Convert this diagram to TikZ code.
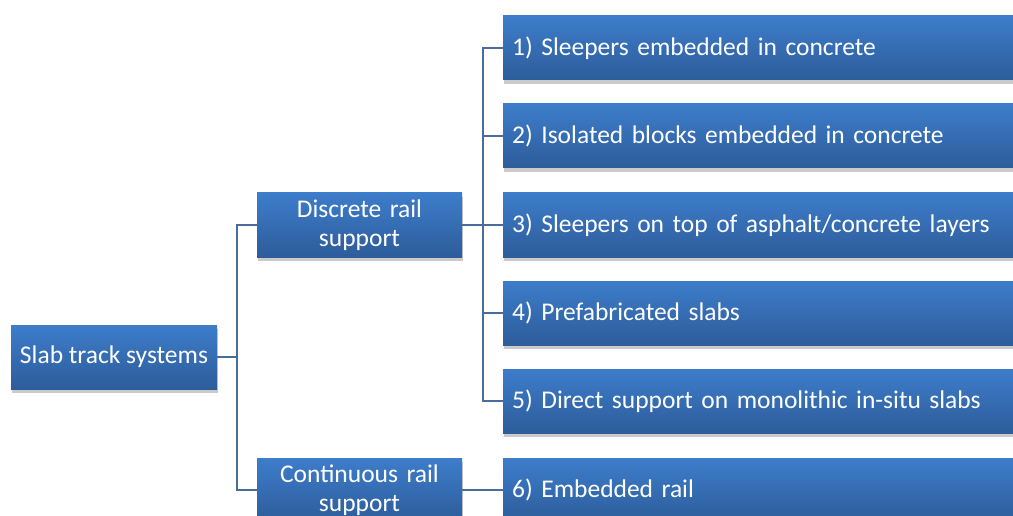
\documentclass[tikz,border=0pt]{standalone}
\usepackage{fontspec}
\setmainfont{Carlito}
\usetikzlibrary{shadows}
\definecolor{boxtop}{HTML}{3D7DCB}
\definecolor{boxbot}{HTML}{2D5C9A}
\definecolor{linec}{HTML}{4A6C9C}
\tikzset{
  box/.style={top color=boxtop, bottom color=boxbot, draw=none, text=white,
    font=\fontsize{25.5}{29}\selectfont, minimum height=64pt,
    drop shadow={shadow xshift=1pt, shadow yshift=-4pt, opacity=0.35, fill=black!60}},
  midbox/.style={box, minimum width=205pt, text width=200pt, align=center, inner sep=0pt},
  leafbox/.style={box, anchor=west, text width=512pt, inner xsep=9pt, inner ysep=0pt, align=left},
  conn/.style={draw=linec, line width=1.6pt}
}
\begin{document}
\begin{tikzpicture}[x=1pt,y=1pt]
\useasboundingbox (0,0) rectangle (1013,-516);
\clip (0,0) rectangle (1013,-516);
\node[box, minimum width=206pt, inner sep=0pt] (root) at (114,-357) {Slab track systems};
\node[midbox] (disc) at (359.5,-225) {Discrete rail\\support};
\node[midbox] (cont) at (359.5,-490) {Continuous rail\\support};
\node[leafbox] (l1) at (503,-48) {1) Sleepers embedded in concrete};
\node[leafbox] (l2) at (503,-136) {2) Isolated blocks embedded in concrete};
\node[leafbox] (l3) at (503,-225) {3) Sleepers on top of asphalt/concrete layers};
\node[leafbox] (l4) at (503,-313) {4) Prefabricated slabs};
\node[leafbox] (l5) at (503,-401) {5) Direct support on monolithic in-situ slabs};
\node[leafbox] (l6) at (503,-490) {6) Embedded rail};
\draw[conn] (root.east) -- ++(20,0) |- (disc.west);
\draw[conn] (root.east) -- ++(20,0) |- (cont.west);
\foreach \n in {l1,l2,l3,l4,l5}{
  \draw[conn] (disc.east) -- ++(21,0) |- (\n.west);
}
\draw[conn] (cont.east) -- (l6.west);
\end{tikzpicture}
\end{document}
